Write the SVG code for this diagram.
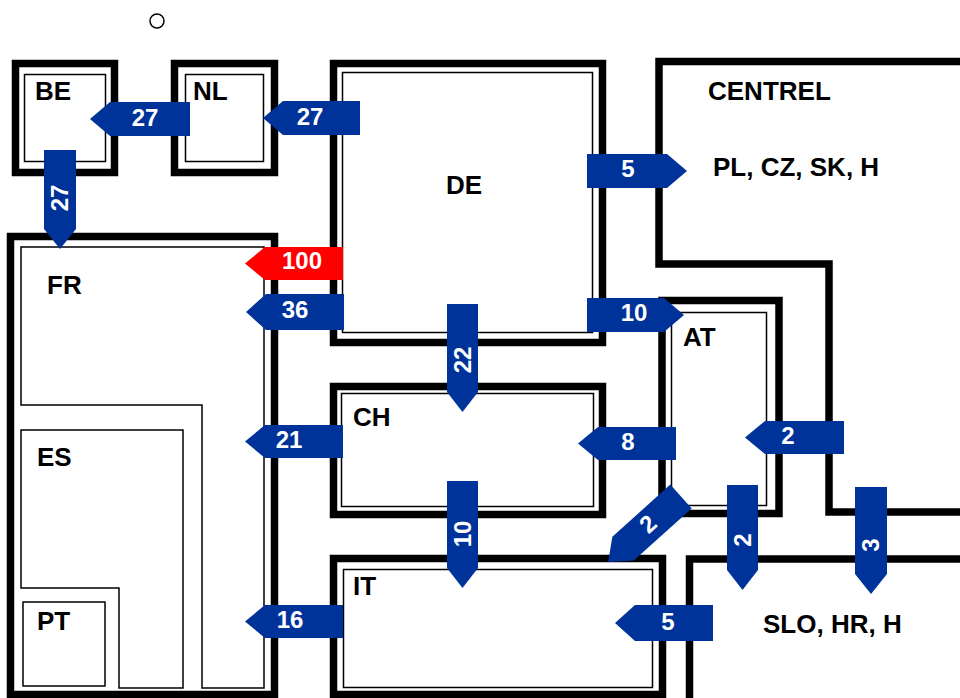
<svg xmlns="http://www.w3.org/2000/svg" width="960" height="698" viewBox="0 0 960 698">
<style>
.thick{fill:none;stroke:#000;stroke-width:7.5;stroke-linejoin:miter}
.thin{fill:none;stroke:#000;stroke-width:1.5}
.lbl{font-family:"Liberation Sans",Arial,sans-serif;font-weight:bold;font-size:26px;fill:#000}
.arr{fill:#003399}
.red{fill:#ff0000}
.num{font-family:"Liberation Sans",Arial,sans-serif;font-weight:bold;font-size:24px;fill:#fff;text-anchor:middle}
</style>
<rect width="960" height="698" fill="#fff"/>
<circle cx="157" cy="21" r="7" fill="none" stroke="#000" stroke-width="1.5"/>
<g id="BE"><rect class="thick" x="15.5" y="63.5" width="99" height="109"/><rect class="thin" x="24.5" y="74.5" width="81" height="87"/><text class="lbl" x="35" y="100">BE</text></g>
<g id="NL"><rect class="thick" x="174.5" y="63.5" width="100" height="109"/><rect class="thin" x="185.5" y="74.5" width="78" height="87"/><text class="lbl" x="193" y="100">NL</text></g>
<g id="DE"><rect class="thick" x="333.5" y="63.5" width="269" height="279"/><rect class="thin" x="342.5" y="72.5" width="250" height="260"/><text class="lbl" x="446" y="194">DE</text></g>
<g id="CENTREL"><path class="thick" d="M960,61.5 H659 V264 H829 V512 H960"/><text class="lbl" x="708" y="100">CENTREL</text><text class="lbl" x="713" y="176">PL, CZ, SK, H</text></g>
<g id="FR"><rect class="thick" x="10.5" y="236.5" width="264" height="458"/><path class="thin" d="M21,247 H264 V688 H202 V405 H21 Z"/><text class="lbl" x="47" y="294">FR</text></g>
<g id="ES"><path class="thin" d="M21,430 H183 V688 H119 V588 H21 Z"/><text class="lbl" x="37" y="466">ES</text></g>
<g id="PT"><rect class="thin" x="23" y="602" width="82" height="84"/><text class="lbl" x="37" y="630">PT</text></g>
<g id="CH"><rect class="thick" x="333.5" y="386.5" width="269" height="128"/><rect class="thin" x="341.5" y="393.5" width="252" height="113"/><text class="lbl" x="353" y="426">CH</text></g>
<g id="AT"><rect class="thick" x="662" y="300.5" width="117" height="213"/><rect class="thin" x="671.5" y="312.5" width="95" height="193"/><text class="lbl" x="683" y="346">AT</text></g>
<g id="IT"><rect class="thick" x="333.5" y="558.5" width="329" height="136"/><rect class="thin" x="343.5" y="569.5" width="309" height="118"/><text class="lbl" x="353" y="595">IT</text></g>
<g id="SLO"><path class="thick" d="M960,559 H689.5 V698"/><text class="lbl" x="763" y="633">SLO, HR, H</text></g>
<g id="connectors">
<polygon class="arr" points="190,102 110,102 90,119 110,136 190,136"/><text class="num" x="145" y="126">27</text>
<polygon class="arr" points="360,101 283,101 263,118 283,135 360,135"/><text class="num" x="310" y="125">27</text>
<polygon class="arr" points="44,150 76,150 76,229 60,249 44,229"/><text class="num" transform="translate(60,198) rotate(-90)" x="0" y="8">27</text>
<polygon class="red" points="343,247 265,247 245,263.5 265,280 343,280"/><text class="num" x="302" y="269">100</text>
<polygon class="arr" points="344,294 266,294 246,312 266,330 344,330"/><text class="num" x="295" y="318">36</text>
<polygon class="arr" points="343,425 265,425 245,441.5 265,458 343,458"/><text class="num" x="289" y="448">21</text>
<polygon class="arr" points="343,605 265,605 245,621.5 265,638 343,638"/><text class="num" x="290" y="628">16</text>
<polygon class="arr" points="587,154 667,154 687,171 667,188 587,188"/><text class="num" x="628" y="177">5</text>
<polygon class="arr" points="587,298 664,298 684,315 664,332 587,332"/><text class="num" x="634" y="321">10</text>
<polygon class="arr" points="447,304 478,304 478,392 462.5,412 447,392"/><text class="num" transform="translate(462.5,360) rotate(-90)" x="0" y="8">22</text>
<polygon class="arr" points="447,481 478,481 478,568 462.5,588 447,568"/><text class="num" transform="translate(462.5,534) rotate(-90)" x="0" y="8">10</text>
<polygon class="arr" points="676,427 598,427 578,443.5 598,460 676,460"/><text class="num" x="628" y="450">8</text>
<polygon class="arr" points="844,421 765,421 745,437.5 765,454 844,454"/><text class="num" x="788" y="444">2</text>
<polygon class="arr" transform="translate(681,496.5) rotate(138)" points="0,-16 78,-16 98,0 78,16 0,16"/><text class="num" transform="translate(648,524) rotate(-42)" x="0" y="8">2</text>
<polygon class="arr" points="727,485 758,485 758,570 742.5,590 727,570"/><text class="num" transform="translate(742.5,540) rotate(-90)" x="0" y="8">2</text>
<polygon class="arr" points="855,487 887,487 887,574 871,594 855,574"/><text class="num" transform="translate(871,545) rotate(-90)" x="0" y="8">3</text>
<polygon class="arr" points="713,605 635,605 615,623 635,641 713,641"/><text class="num" x="668" y="630">5</text>
</g>
</svg>
